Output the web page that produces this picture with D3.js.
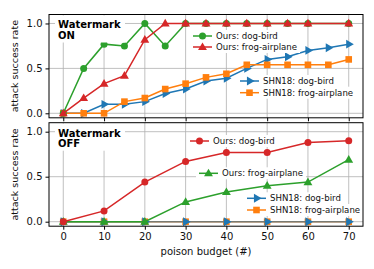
<!DOCTYPE html>
<html>
<head>
<meta charset="utf-8">
<script src="https://cdn.jsdelivr.net/npm/d3@7"></script>
<style>
  body { margin: 0; background: #fff; }
  svg { display: block; font-family: "DejaVu Sans", sans-serif; }
</style>
</head>
<body>
<div id="chartContainer"></div>
<script>
// ---- data ----
const budgetOn = [0, 5, 10, 15, 20, 25, 30, 35, 40, 45, 50, 55, 60, 65, 70];
const onOursDogBird = [0, 0.5, 0.77, 0.75, 1.0, 0.75, 1.0, 1.0, 1.0, 1.0, 1.0, 1.0, 1.0, null, 1.0];
const onOursFrogAirplane = [0, 0.17, 0.33, 0.42, 0.82, 1.0, 1.0, 1.0, 1.0, 1.0, 1.0, 1.0, 1.0, null, 1.0];
const onShnDogBird = [0, 0, 0.1, 0.1, 0.13, 0.22, 0.27, 0.36, 0.39, 0.5, 0.6, 0.63, 0.7, 0.73, 0.77];
const onShnFrogAirplane = [0, 0, 0, 0.13, 0.17, 0.27, 0.33, 0.4, 0.44, 0.54, 0.54, 0.54, 0.54, 0.54, 0.6];

const budgetOff = [0, 10, 20, 30, 40, 50, 60, 70];
const offOursDogBird = [0, 0.12, 0.44, 0.67, 0.77, 0.77, 0.88, 0.9];
const offOursFrogAirplane = [0, 0, 0, 0.22, 0.33, 0.4, 0.44, 0.69];
const offShnDogBird = [0, 0, 0, 0, 0, 0, 0, 0];
const offShnFrogAirplane = [0, 0, 0, 0, 0, 0, 0, 0];

const xTicks = [0, 10, 20, 30, 40, 50, 60, 70];
const yTicks = [0, 0.5, 1.0];

// ---- layout ----
const width = 374, height = 269;
const marginLeft = 49, marginRight = 11;
const panels = [
  { top: 14.5, bottom: 117.8, title: ["Watermark", "ON"] },
  { top: 122.7, bottom: 226.2, title: ["Watermark", "OFF"] }
];
const blue = "#1f77b4", orange = "#ff7f0e", green = "#2ca02c", red = "#d62728";

var svg = d3.select("#chartContainer").append("svg")
  .attr("width", width).attr("height", height);

const x = d3.scaleLinear().domain([-3.5, 73.5]).range([marginLeft, width - marginRight]);

function zip(xs, ys) {
  return xs.map((v, i) => ({ x: v, y: ys[i] })).filter(d => d.y != null);
}

function marker(g, shape, color, cx, cy) {
  if (shape == "circle") {
    g.append("circle").attr("cx", cx).attr("cy", cy).attr("r", 3.5).attr("fill", color);
  } else if (shape == "square") {
    g.append("rect").attr("x", cx - 3.3).attr("y", cy - 3.3).attr("width", 6.6).attr("height", 6.6).attr("fill", color);
  } else if (shape == "triangle") {
    g.append("path").attr("d", d3.symbol(d3.symbolTriangle, 34)()).attr("transform", "translate(" + cx + "," + (cy + 0.5) + ")").attr("fill", color);
  } else {
    g.append("path").attr("d", d3.symbol(d3.symbolTriangle, 34)()).attr("transform", "translate(" + cx + "," + cy + ") rotate(90)").attr("fill", color);
  }
}

function drawPanel(p, series, legends) {
  const y = d3.scaleLinear().domain([-0.05, 1.1]).range([p.bottom, p.top]);
  const g = svg.append("g");

  // grid
  g.append("g").selectAll("line").data(xTicks).join("line")
    .attr("x1", d => x(d)).attr("x2", d => x(d)).attr("y1", p.top).attr("y2", p.bottom)
    .attr("stroke", "#b0b0b0").attr("stroke-width", 0.8);
  g.append("g").selectAll("line").data(yTicks).join("line")
    .attr("x1", marginLeft).attr("x2", width - marginRight).attr("y1", d => y(d)).attr("y2", d => y(d))
    .attr("stroke", "#b0b0b0").attr("stroke-width", 0.8);

  // series
  const line = d3.line().x(d => x(d.x)).y(d => y(d.y));
  series.forEach(s => {
    const pts = zip(s.xs, s.ys);
    const sg = g.append("g");
    sg.append("path").attr("d", line(pts)).attr("fill", "none")
      .attr("stroke", s.color).attr("stroke-width", 1.5).attr("stroke-opacity", s.opacity || 1);
    pts.forEach(d => marker(sg, s.shape, s.color, x(d.x), y(d.y)));
  });

  // title box
  g.append("rect").attr("x", 55).attr("y", p.top + 1).attr("width", 70).attr("height", 27).attr("fill", "#fff");
  g.append("text").attr("x", 58).attr("y", p.top + 13.8).attr("font-size", 10).attr("font-weight", "bold").text(p.title[0]);
  g.append("text").attr("x", 58).attr("y", p.top + 24.3).attr("font-size", 10).attr("font-weight", "bold").text(p.title[1]);

  // legends
  legends.forEach(l => {
    const lg = g.append("g");
    const bg = lg.append("rect").attr("fill", "#fff");
    const t = lg.append("text").attr("x", l.hx + 23).attr("y", l.y).attr("dominant-baseline", "central")
      .attr("font-size", 8.6).attr("fill", "#111").text(l.label);
    const bb = t.node().getBBox();
    bg.attr("x", l.hx - 3).attr("y", l.y - 6).attr("width", bb.x + bb.width - l.hx + 6).attr("height", 12);
    lg.append("line").attr("x1", l.hx).attr("x2", l.hx + 19).attr("y1", l.y).attr("y2", l.y)
      .attr("stroke", l.color).attr("stroke-width", 1.5);
    marker(lg, l.shape, l.color, l.hx + 9.5, l.y);
  });

  // frame
  g.append("rect").attr("x", marginLeft).attr("y", p.top)
    .attr("width", width - marginRight - marginLeft).attr("height", p.bottom - p.top)
    .attr("fill", "none").attr("stroke", "#000").attr("stroke-width", 1);

  // axes
  const ya = g.append("g").attr("transform", "translate(" + marginLeft + ",0)")
    .call(d3.axisLeft(y).tickValues(yTicks).tickFormat(d3.format(".1f")).tickSize(3.5).tickPadding(3));
  const xa = g.append("g").attr("transform", "translate(0," + p.bottom + ")")
    .call(d3.axisBottom(x).tickValues(xTicks).tickSize(3.5).tickPadding(3)
      .tickFormat(p.showX ? d3.format("d") : ""));
  [ya, xa].forEach(a => {
    a.select(".domain").remove();
    a.selectAll("text").attr("font-size", 10).attr("font-family", "DejaVu Sans").attr("fill", "#111");
  });

  g.append("text").attr("transform", "translate(18," + ((p.top + p.bottom) / 2) + ") rotate(-90)")
    .attr("text-anchor", "middle").attr("font-size", 9.5).attr("fill", "#111").text("attack success rate");
}

panels[1].showX = true;

drawPanel(panels[0], [
  { xs: budgetOn, ys: onShnDogBird, color: blue, shape: "right" },
  { xs: budgetOn, ys: onShnFrogAirplane, color: orange, shape: "square" },
  { xs: budgetOn, ys: onOursDogBird, color: green, shape: "circle" },
  { xs: budgetOn, ys: onOursFrogAirplane, color: red, shape: "triangle" }
], [
  { label: "Ours: dog-bird", color: green, shape: "circle", hx: 193, y: 36 },
  { label: "Ours: frog-airplane", color: red, shape: "triangle", hx: 193, y: 47 },
  { label: "SHN18: dog-bird", color: blue, shape: "right", hx: 240, y: 81 },
  { label: "SHN18: frog-airplane", color: orange, shape: "square", hx: 240, y: 92.7 }
]);

drawPanel(panels[1], [
  { xs: budgetOff, ys: offShnFrogAirplane, color: orange, shape: "square" },
  { xs: budgetOff, ys: offShnDogBird, color: blue, shape: "right", opacity: 0.6 },
  { xs: budgetOff, ys: offOursFrogAirplane, color: green, shape: "triangle" },
  { xs: budgetOff, ys: offOursDogBird, color: red, shape: "circle" }
], [
  { label: "Ours: dog-bird", color: red, shape: "circle", hx: 190, y: 141 },
  { label: "Ours: frog-airplane", color: green, shape: "triangle", hx: 199, y: 173.3 },
  { label: "SHN18: dog-bird", color: blue, shape: "right", hx: 247, y: 198.3 },
  { label: "SHN18: frog-airplane", color: orange, shape: "square", hx: 247, y: 210 }
]);

svg.append("text").attr("x", x(35)).attr("y", 254.5).attr("text-anchor", "middle")
  .attr("font-size", 10).attr("fill", "#111").text("poison budget (#)");
</script>
</body>
</html>
